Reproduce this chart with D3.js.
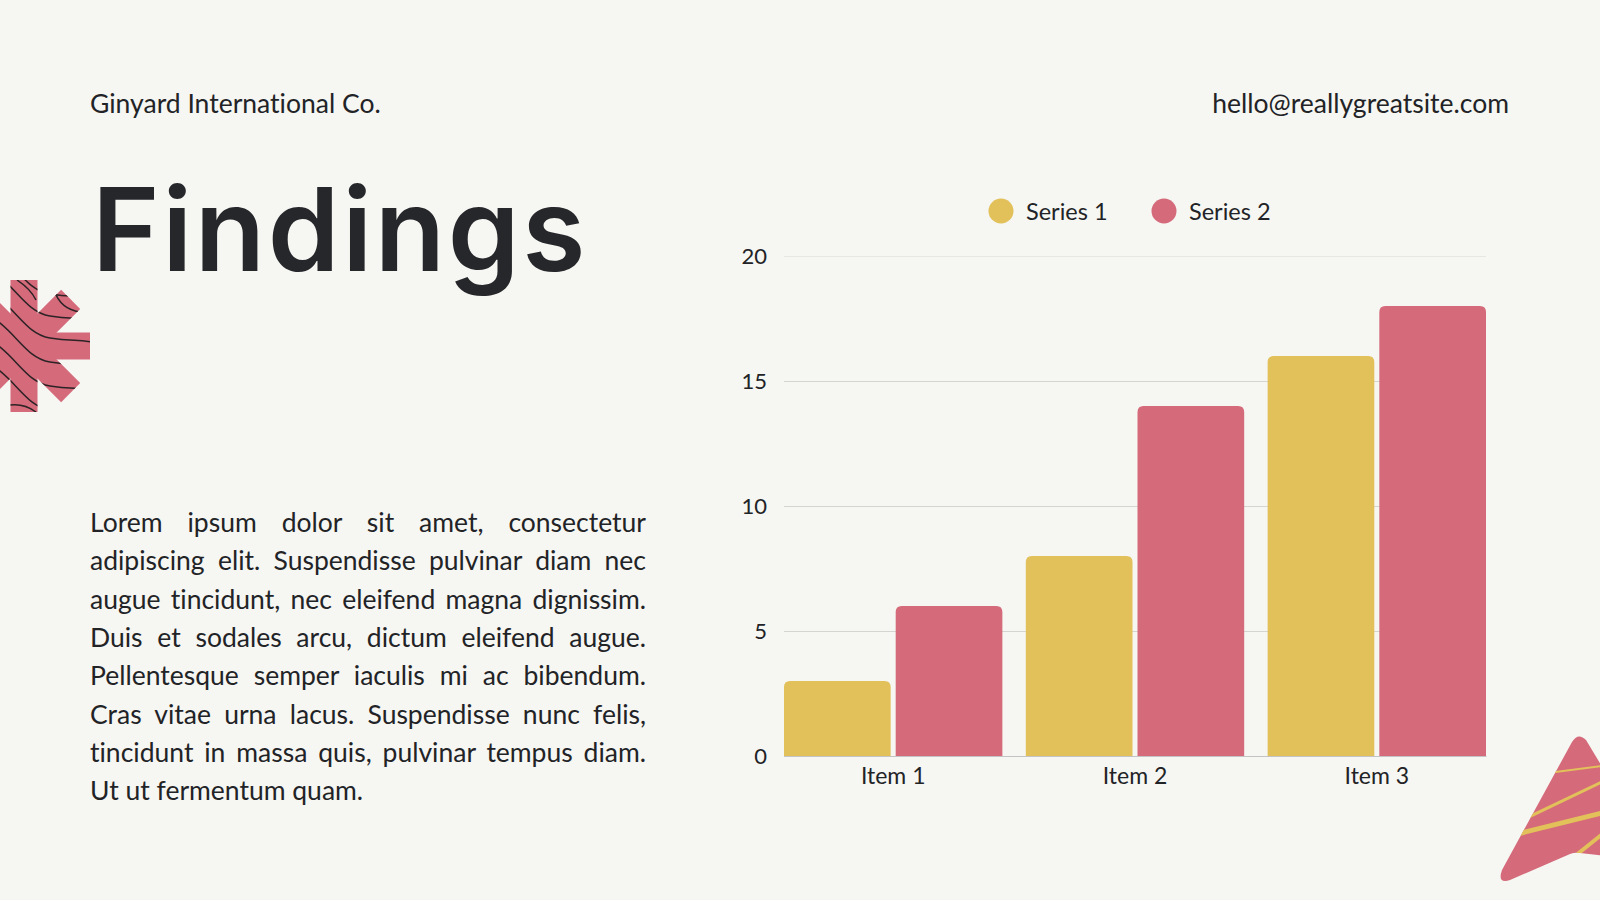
<!DOCTYPE html>
<html>
<head>
<meta charset="utf-8">
<title>Findings</title>
<script src="https://d3js.org/d3.v7.min.js"></script>
<style>
  body { margin: 0; background: #f6f6f2; }
  svg { display: block; }
  .sans { font-family: "Source Sans Pro", Lato, "Noto Sans", sans-serif; fill: #222326; font-variant-ligatures: none; }
</style>
</head>
<body>
<div id="slide"></div>
<script>
"use strict"

// dados do grafico
var items = ["Item 1", "Item 2", "Item 3"];
var seriesNames = ["Series 1", "Series 2"];
var series1 = [3, 8, 16];
var series2 = [6, 14, 18];
var yTicks = [0, 5, 10, 15, 20];

var cores = ["#e2c05a", "#d46a7a"];

var paragrafo = [
  "Lorem ipsum dolor sit amet, consectetur",
  "adipiscing elit. Suspendisse pulvinar diam nec",
  "augue tincidunt, nec eleifend magna dignissim.",
  "Duis et sodales arcu, dictum eleifend augue.",
  "Pellentesque semper iaculis mi ac bibendum.",
  "Cras vitae urna lacus. Suspendisse nunc felis,",
  "tincidunt in massa quis, pulvinar tempus diam.",
  "Ut ut fermentum quam."
];

var larguraSVG = 1600, alturaSVG = 900;
var svg = d3.select("#slide").append("svg")
    .attr("width", larguraSVG)
    .attr("height", alturaSVG);

svg.append("rect").attr("width", larguraSVG).attr("height", alturaSVG).attr("fill", "#f6f6f2");

// cabecalho
svg.append("text").attr("class", "sans")
   .attr("x", 90).attr("y", 113)
   .style("font-size", "26.5px")
   .text("Ginyard International Co.");

svg.append("text").attr("class", "sans")
   .attr("x", 1509).attr("y", 113)
   .attr("text-anchor", "end")
   .style("font-size", "26.5px")
   .text("hello@reallygreatsite.com");

// titulo
var titulo = svg.append("text")
   .attr("x", 92).attr("y", 271)
   .style("font-family", "Inter, 'Open Sans', sans-serif")
   .style("font-weight", 600)
   .style("font-size", "115px")
   .style("fill", "#26272b")
   .text("Findings");
var wTitulo = titulo.node().getComputedTextLength();
titulo.style("letter-spacing", ((496 - wTitulo) / 8) + "px");

// paragrafo justificado
var texto = svg.append("g").attr("class", "sans");
var xTexto = 90, larguraTexto = 556;
paragrafo.forEach(function(linha, i) {
  var t = texto.append("text")
     .attr("x", xTexto).attr("y", 532 + i * 38.3)
     .style("font-size", "26.5px")
     .text(linha);
  if (i < paragrafo.length - 1) {
    var w = t.node().getComputedTextLength();
    var espacos = linha.split(" ").length - 1;
    t.style("word-spacing", ((larguraTexto - w) / espacos) + "px");
  }
});

// asterisco decorativo
var defs = svg.append("defs");
var clipAst = defs.append("clipPath").attr("id", "clipAst");
var ast = svg.append("g").attr("transform", "translate(24,346)");
[0, 45, 90, 135].forEach(function(a) {
  clipAst.append("rect").attr("x", -66).attr("y", -13.5).attr("width", 132).attr("height", 27)
     .attr("transform", "translate(24,346) rotate(" + a + ")");
  ast.append("rect").attr("x", -66).attr("y", -13.5).attr("width", 132).attr("height", 27)
     .attr("transform", "rotate(" + a + ")")
     .attr("fill", "#d46a7a");
});
var ondas = svg.append("g").attr("clip-path", "url(#clipAst)")
   .attr("fill", "none").attr("stroke", "#2b2326").attr("stroke-width", 1.5);
[-30, -8, 14, 38, 62, 86].forEach(function(dy) {
  var y0 = 300 + dy;
  ondas.append("path")
     .attr("d", "M -10 " + (y0 - 22) + " C 15 " + (y0 - 8) + ", 25 " + (y0 + 20) + ", 50 " + (y0 + 24)
        + " S 80 " + (y0 + 24) + ", 100 " + (y0 + 30));
});
ondas.append("path").attr("d", "M 17 280 C 26 286, 32 292, 36 300");
ondas.append("path").attr("d", "M 54 290 C 58 302, 66 310, 80 312");
ondas.append("path").attr("d", "M 10 405 C 18 404, 28 406, 36 412");

// triangulo decorativo
var clipTri = defs.append("clipPath").attr("id", "clipTri");
var dTri = "M 1572 742 Q 1578 732 1586 740 L 1640 830 L 1640 860 L 1580 853 Q 1575 852 1570 854 L 1510 880 Q 1497 884 1502 870 Z";
clipTri.append("path").attr("d", dTri);
svg.append("path").attr("d", dTri).attr("fill", "#d46a7a");
var listras = svg.append("g").attr("clip-path", "url(#clipTri)").attr("stroke", "#e2c05a").attr("fill", "none");
listras.append("line").attr("x1", 1540).attr("y1", 774).attr("x2", 1610).attr("y2", 765).attr("stroke-width", 2);
listras.append("line").attr("x1", 1510).attr("y1", 826).attr("x2", 1610).attr("y2", 778).attr("stroke-width", 3);
listras.append("line").attr("x1", 1505).attr("y1", 837).attr("x2", 1610).attr("y2", 811).attr("stroke-width", 5);
listras.append("line").attr("x1", 1575).attr("y1", 856).attr("x2", 1610).attr("y2", 828).attr("stroke-width", 4);

// grafico de barras
var x0 = d3.scaleBand().domain(items).range([784, 1486]).paddingInner(0.097).paddingOuter(0);
var x1 = d3.scaleBand().domain(seriesNames).range([0, x0.bandwidth()]).paddingInner(0.045);
var y = d3.scaleLinear().domain([0, 20]).range([756, 256]);

var grade = svg.append("g")
   .attr("transform", "translate(784,0)")
   .call(d3.axisLeft(y).tickValues(yTicks).tickSize(-702).tickPadding(17).tickFormat(d3.format("d")));
grade.select(".domain").remove();
grade.selectAll(".tick line")
   .attr("stroke", function(d) { return d === 20 ? "#e6e6e2" : (d === 0 ? "#c4c4c4" : "#d4d4d0"); });
grade.selectAll(".tick text")
   .style("font-family", "'Source Sans Pro', Lato, 'Noto Sans', sans-serif")
   .style("font-size", "22px")
   .attr("fill", "#222326");

function barraArredondada(x, y, w, h, r) {
  return "M" + x + "," + (y + h) + "V" + (y + r) + "Q" + x + "," + y + " " + (x + r) + "," + y
    + "H" + (x + w - r) + "Q" + (x + w) + "," + y + " " + (x + w) + "," + (y + r)
    + "V" + (y + h) + "Z";
}

var valores = [series1, series2];
var grupos = svg.append("g").selectAll("g")
   .data(items)
   .join("g")
   .attr("transform", function(d) { return "translate(" + x0(d) + ",0)"; });

grupos.selectAll("path")
   .data(function(d, i) { return seriesNames.map(function(s, k) { return { serie: s, valor: valores[k][i], k: k }; }); })
   .join("path")
   .attr("d", function(d) {
     return barraArredondada(x1(d.serie), y(d.valor), x1.bandwidth(), y(0) - y(d.valor), 6);
   })
   .attr("fill", function(d) { return cores[d.k]; });

// eixo x
var eixoX = svg.append("g")
   .attr("transform", "translate(0," + y(0) + ")")
   .call(d3.axisBottom(x0).tickSize(0).tickPadding(12));
eixoX.select(".domain").attr("stroke", "#c4c4c4");
eixoX.selectAll(".tick text")
   .style("font-family", "'Source Sans Pro', Lato, 'Noto Sans', sans-serif")
   .style("font-size", "23px")
   .attr("fill", "#222326");

// legenda
var legenda = svg.append("g").attr("class", "sans");
var xLeg = [1001, 1164];
seriesNames.forEach(function(s, k) {
  legenda.append("circle").attr("cx", xLeg[k]).attr("cy", 211).attr("r", 12.5).attr("fill", cores[k]);
  legenda.append("text").attr("x", xLeg[k] + 25).attr("y", 220)
     .style("font-size", "23.5px").text(s);
});
</script>
</body>
</html>
